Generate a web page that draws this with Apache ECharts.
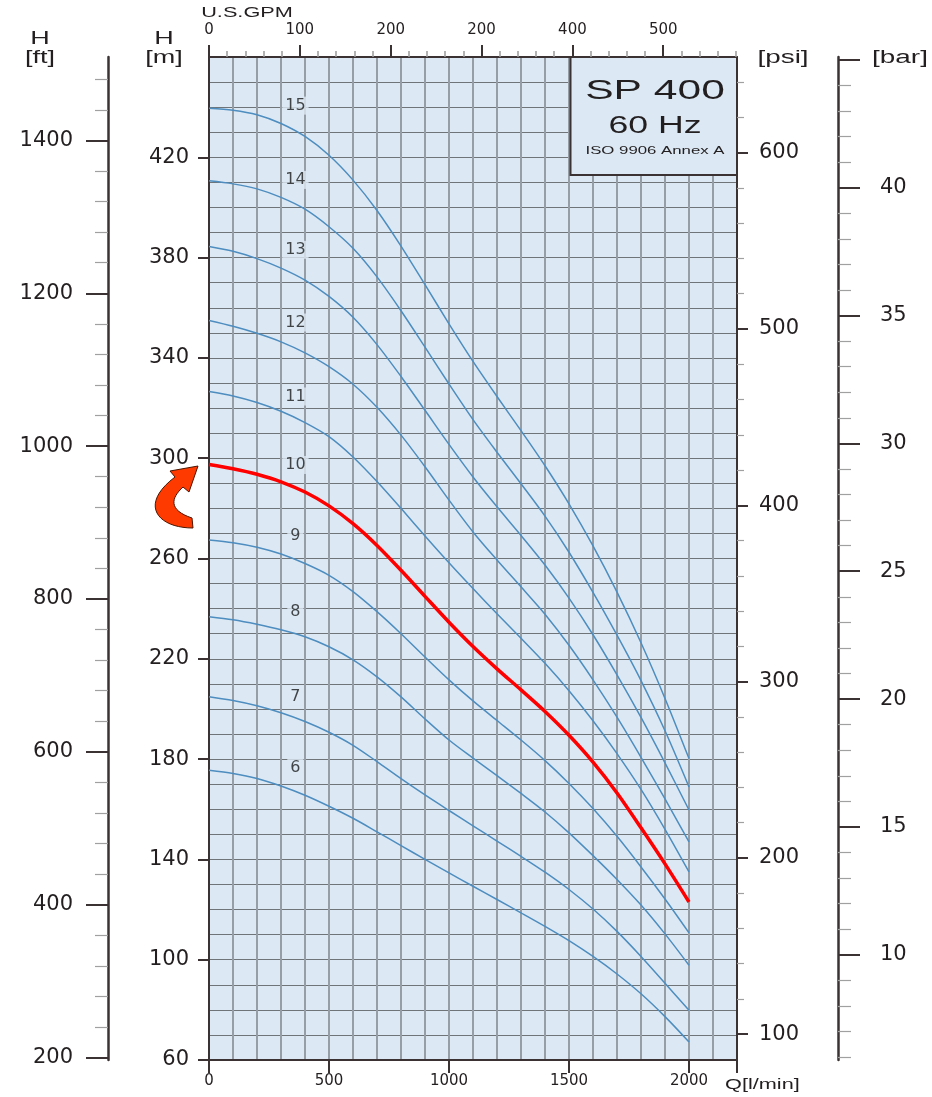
<!DOCTYPE html>
<html><head><meta charset="utf-8">
<script src="https://cdn.jsdelivr.net/npm/echarts@6/dist/echarts.min.js"></script>
<style>html,body{margin:0;padding:0;background:#fff}#c{width:932px;height:1097px}</style>
</head><body><div id="c"></div>
<script>
// ---- data ----
const flow = [0, 100, 200, 300, 400, 500, 600, 700, 800, 900, 1000, 1100, 1200, 1300, 1400, 1500, 1600, 1700, 1800, 1900, 2000];   // Q [l/min]
const stage6  = [175.6, 174.3, 172.3, 169.3, 165.6, 161.2, 156.4, 151.0, 145.5, 140.0, 134.6, 129.3, 124.0, 118.7, 113.3, 107.6, 101.3, 94.3, 86.4, 77.3, 67.2];
const stage7  = [204.9, 203.4, 201.3, 198.5, 195.0, 190.7, 185.5, 179.0, 172.2, 165.7, 159.5, 153.4, 147.3, 141.2, 134.9, 128.0, 120.2, 111.3, 101.3, 90.6, 79.8];
const stage8  = [236.8, 235.6, 233.8, 231.6, 228.8, 224.8, 219.6, 212.8, 204.8, 196.0, 187.6, 180.4, 173.4, 166.3, 158.9, 150.6, 141.5, 132.0, 121.8, 110.3, 97.8];
const stage9  = [267.4, 266.3, 264.5, 261.8, 258.0, 253.3, 246.8, 238.8, 230.0, 220.7, 211.6, 203.2, 195.4, 187.6, 179.4, 170.3, 160.3, 149.2, 137.0, 124.2, 110.7];
const stage10 = [297.5, 295.8, 293.6, 290.6, 286.5, 281.0, 273.9, 265.2, 255.3, 244.9, 234.6, 224.9, 216.0, 207.6, 199.0, 189.5, 178.8, 166.5, 152.6, 138.2, 123.0];
const stage11 = [326.6, 324.8, 322.2, 318.7, 314.2, 308.6, 300.5, 290.7, 280.0, 269.0, 258.3, 248.0, 238.0, 228.2, 218.2, 207.3, 195.3, 182.2, 167.9, 152.0, 135.0];
const stage12 = [354.9, 352.6, 349.8, 346.4, 342.0, 336.5, 329.5, 320.3, 309.2, 296.6, 283.3, 270.6, 259.4, 248.7, 237.8, 225.4, 211.6, 196.7, 180.7, 164.1, 147.0];
const stage13 = [384.4, 382.5, 379.6, 375.8, 371.0, 364.5, 356.2, 345.3, 332.6, 319.1, 305.5, 292.5, 280.6, 269.2, 257.4, 244.2, 229.6, 213.6, 196.6, 178.5, 159.7];
const stage14 = [410.6, 409.4, 407.4, 404.0, 399.3, 392.3, 383.7, 372.3, 358.8, 344.3, 329.6, 315.4, 302.4, 289.8, 276.9, 262.5, 246.5, 229.4, 211.3, 191.3, 168.9];
const stage15 = [439.6, 438.8, 437.0, 433.5, 428.3, 420.8, 410.9, 398.8, 384.6, 369.2, 353.6, 338.6, 324.6, 311.0, 297.0, 281.8, 265.0, 246.6, 226.4, 204.2, 180.2];
const stages = [6, 7, 8, 9, 10, 11, 12, 13, 14, 15];
const curves = [stage6, stage7, stage8, stage9, stage10, stage11, stage12, stage13, stage14, stage15];
const highlightStage = 10;

const stageLabels = ['6', '7', '8', '9', '10', '11', '12', '13', '14', '15'];
const stageLabelQ = 360;
const stageLabelH = [176.6, 204.9, 238.8, 269.0, 297.3, 324.6, 354.1, 383.1, 411.0, 440.6];

// tick values / labels
const qLabels = [0, 500, 1000, 1500, 2000];
const qTickMarks = [0, 500, 1000, 1500, 2000, 2200];
const mLabels = [60, 100, 140, 180, 220, 260, 300, 340, 380, 420];
const ftLabels = [200, 400, 600, 800, 1000, 1200, 1400];
const psiLabels = [100, 200, 300, 400, 500, 600];
const barLabels = [10, 15, 20, 25, 30, 35, 40];
const barMajor = [10, 15, 20, 25, 30, 35, 40, 45];
const gpmTicks = [0, 100, 200, 300, 400, 500];
const gpmText = ['0', '100', '200', '200', '400', '500'];

// unit conversions
const M_TO_FT = 3.28084, M_PER_PSI = 0.70307, M_PER_BAR = 10.197, LPM_PER_GPM = 3.78541;
const H_MIN = 60, H_MAX = 460, Q_MAX = 2200;

function steps(a, b, s, skip) { const r = []; for (let v = a; v <= b + 1e-9; v += s) { if (!skip || Math.abs(v / skip - Math.round(v / skip)) > 1e-9) r.push(v); } return r; }
const ftMinor = steps(200, 1480, 40, 200);
const psiMinor = steps(100, 640, 20, 100);
const barMinor = steps(6, 45, 1, 5);
const gpmMinor = steps(0, 580, 20, 100);

const AX = '#3b3333';
const TXT = '#231f20';
const BG = '#dce8f4';
const plain = v => String(Math.round(v));
const labFont = { fontFamily: 'DejaVu Sans', color: TXT, formatter: plain };

function hidden(extra) {
  return Object.assign({ axisLine: { show: false, onZero: false }, axisTick: { show: false }, axisLabel: { show: false }, splitLine: { show: false } }, extra);
}

const chart = echarts.init(document.getElementById('c'), null, { renderer: 'canvas' });

const lineSeries = stages.map((s, i) => ({
  type: 'line',
  name: 'Stage ' + s,
  xAxisIndex: 0, yAxisIndex: 0,
  data: flow.map((q, j) => [q, curves[i][j]]),
  smooth: 0.3,
  symbol: 'none',
  silent: true,
  lineStyle: { color: s === highlightStage ? '#ff0000' : '#4d8dbf', width: s === highlightStage ? 3.5 : 1.5 },
  z: s === highlightStage ? 5 : 3
}));

const labelSeries = {
  type: 'scatter',
  xAxisIndex: 0, yAxisIndex: 0,
  data: stageLabels.map((t, i) => [stageLabelQ, stageLabelH[i], t]),
  symbolSize: 1,
  itemStyle: { color: 'rgba(0,0,0,0)' },
  silent: true,
  z: 6,
  label: { show: true, position: 'inside', formatter: p => p.data[2], fontFamily: 'DejaVu Sans', fontSize: 16, color: '#1a1a1a', backgroundColor: BG, padding: [1, 3] }
};

function gtext(text, x, y, size, align, sx) {
  return { type: 'text', x: x, y: y, scaleX: sx || 1.5, z: 20,
    style: { text: text, x: 0, y: 0, fontSize: size, fontFamily: 'Liberation Sans', fill: TXT,
      align: align || 'center', textAlign: align || 'center', verticalAlign: 'middle', textVerticalAlign: 'middle' } };
}

// decorative arrow outline (polygon sampled from bezier curves)
function bez(p0, p1, p2, p3, n) {
  const pts = [];
  for (let k = 1; k <= n; k++) {
    const t = k / n, u = 1 - t;
    pts.push([u*u*u*p0[0] + 3*u*u*t*p1[0] + 3*u*t*t*p2[0] + t*t*t*p3[0],
              u*u*u*p0[1] + 3*u*u*t*p1[1] + 3*u*t*t*p2[1] + t*t*t*p3[1]]);
  }
  return pts;
}
const arrowPts = [[198, 466], [189, 492], [183, 487]]
  .concat(bez([183, 487], [171, 498], [168, 510], [192, 518], 16))
  .concat([[193, 528]])
  .concat(bez([193, 528], [158, 528], [138, 505], [175, 477], 20))
  .concat([[170, 471]]);

const option = {
  animation: false,
  backgroundColor: '#ffffff',
  grid: { left: 209, right: 195, top: 57, bottom: 37, show: true, backgroundColor: BG, borderWidth: 0, containLabel: false, outerBoundsMode: 'none' },
  xAxis: [
    { type: 'value', position: 'bottom', min: 0, max: Q_MAX,
      axisLine: { show: true, onZero: false, lineStyle: { color: AX, width: 2 } },
      axisTick: { show: true, customValues: qTickMarks, length: 13, lineStyle: { color: AX, width: 2 } },
      axisLabel: Object.assign({}, labFont, { customValues: qLabels, margin: 14, fontSize: 15 }),
      splitLine: { show: false } },
    { type: 'value', position: 'top', min: 0, max: Q_MAX / LPM_PER_GPM,
      axisLine: { show: true, onZero: false, lineStyle: { color: AX, width: 2 } },
      axisTick: { show: true, customValues: gpmTicks, length: 12, lineStyle: { color: AX, width: 2 } },
      axisLabel: Object.assign({}, labFont, { customValues: gpmTicks, margin: 19, fontSize: 15,
        formatter: v => { const k = gpmTicks.findIndex(t => Math.abs(t - v) < 1e-6); return k >= 0 ? gpmText[k] : plain(v); } }),
      splitLine: { show: false } },
    hidden({ type: 'value', position: 'top', min: 0, max: Q_MAX / LPM_PER_GPM,
      axisTick: { show: true, customValues: gpmMinor, length: 6, lineStyle: { color: '#9a9a9a', width: 1.5 } } }),
    hidden({ type: 'value', position: 'bottom', min: 0, max: Q_MAX, interval: 100,
      splitLine: { show: true, lineStyle: { color: '#979da4', width: 2 } } })
  ],
  yAxis: [
    { type: 'value', position: 'left', min: H_MIN, max: H_MAX,
      axisLine: { show: true, onZero: false, lineStyle: { color: AX, width: 2 } },
      axisTick: { show: true, customValues: mLabels, length: 11, lineStyle: { color: AX, width: 2 } },
      axisLabel: Object.assign({}, labFont, { customValues: mLabels, margin: 20, fontSize: 21 }),
      splitLine: { show: false } },
    hidden({ type: 'value', position: 'left', min: H_MIN, max: H_MAX, interval: 10,
      splitLine: { show: true, lineStyle: { color: '#6f7479', width: 1.2 } } }),
    { type: 'value', position: 'left', offset: 101, min: H_MIN * M_TO_FT, max: H_MAX * M_TO_FT,
      axisLine: { show: true, onZero: false, lineStyle: { color: AX, width: 2.5 } },
      axisTick: { show: true, customValues: ftLabels, length: 22, lineStyle: { color: AX, width: 2 } },
      axisLabel: Object.assign({}, labFont, { customValues: ftLabels, margin: 35, fontSize: 21 }),
      splitLine: { show: false } },
    hidden({ type: 'value', position: 'left', offset: 101, min: H_MIN * M_TO_FT, max: H_MAX * M_TO_FT,
      axisTick: { show: true, customValues: ftMinor, length: 13, lineStyle: { color: '#a0a0a0', width: 1.2 } } }),
    { type: 'value', position: 'right', offset: 0, min: H_MIN / M_PER_PSI, max: H_MAX / M_PER_PSI,
      axisLine: { show: true, onZero: false, lineStyle: { color: AX, width: 2 } },
      axisTick: { show: true, customValues: psiLabels, length: 11, lineStyle: { color: AX, width: 2 } },
      axisLabel: Object.assign({}, labFont, { customValues: psiLabels, margin: 22, fontSize: 21 }),
      splitLine: { show: false } },
    hidden({ type: 'value', position: 'right', offset: 0, min: H_MIN / M_PER_PSI, max: H_MAX / M_PER_PSI,
      axisTick: { show: true, customValues: psiMinor, length: 7, lineStyle: { color: '#a0a0a0', width: 1.2 } } }),
    { type: 'value', position: 'right', offset: 101, min: H_MIN / M_PER_BAR, max: H_MAX / M_PER_BAR,
      axisLine: { show: true, onZero: false, lineStyle: { color: AX, width: 2.5 } },
      axisTick: { show: true, customValues: barMajor, length: 22, lineStyle: { color: AX, width: 2 } },
      axisLabel: Object.assign({}, labFont, { customValues: barLabels, margin: 42, fontSize: 21 }),
      splitLine: { show: false } },
    hidden({ type: 'value', position: 'right', offset: 101, min: H_MIN / M_PER_BAR, max: H_MAX / M_PER_BAR,
      axisTick: { show: true, customValues: barMinor, length: 13, lineStyle: { color: '#a0a0a0', width: 1.2 } } })
  ],
  series: lineSeries.concat([labelSeries]),
  graphic: { elements: [
    { type: 'rect', z: 15, shape: { x: 571, y: 58, width: 165, height: 116 }, style: { fill: BG } },
    { type: 'polyline', z: 16, shape: { points: [[570.5, 57], [570.5, 175], [737, 175]] }, style: { stroke: AX, lineWidth: 2, fill: null } },
    gtext('SP 400', 655, 91, 28, 'center', 1.52),
    gtext('60 Hz', 655, 127, 23, 'center', 1.55),
    gtext('ISO 9906 Annex A', 655, 151, 11.5, 'center', 1.46),
    gtext('H', 40, 39, 18), gtext('[ft]', 40, 58, 18),
    gtext('H', 164, 39, 18), gtext('[m]', 164, 58, 18),
    gtext('U.S.GPM', 247, 13, 14, 'center', 1.55),
    gtext('[psi]', 783, 58, 18, 'center', 1.55),
    gtext('[bar]', 900, 58, 18, 'center', 1.55),
    gtext('Q[l/min]', 725, 1085, 14, 'left', 1.55),
    { type: 'polygon', z: 20, shape: { points: arrowPts }, style: { fill: '#ff3a00', stroke: '#4a1500', lineWidth: 1 } }
  ] }
};
chart.setOption(option);
</script>
</body></html>
